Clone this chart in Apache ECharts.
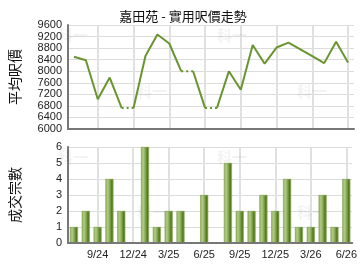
<!doctype html>
<html lang="zh-Hant">
<head>
<meta charset="UTF-8">
<title>嘉田苑 - 實用呎價走勢</title>
<script src="https://cdn.jsdelivr.net/npm/echarts@6/dist/echarts.min.js"></script>
<style>
  html, body { margin: 0; padding: 0; background: #fff; }
  #main { width: 360px; height: 270px; }
</style>
</head>
<body>
<div id="main"></div>
<script type="text/javascript">
// 月份 (7/24 - 6/26)
var months = ['7/24','8/24','9/24','10/24','11/24','12/24','1/25','2/25','3/25','4/25','5/25','6/25',
              '7/25','8/25','9/25','10/25','11/25','12/25','1/26','2/26','3/26','4/26','5/26','6/26'];
// 平均呎價
var prices = [8500, 8380, 7030, 7780, 6730, 6730, 8530, 9270, 8960, 8000, 8000, 6730,
              6730, 8000, 7360, 8910, 8260, 8820, 8990, 8760, 8520, 8280, 9020, 8300];
// 成交宗數
var deals = [1, 2, 1, 4, 2, 0, 6, 1, 2, 2, 0, 3, 0, 5, 2, 2, 3, 2, 4, 1, 1, 3, 1, 4];
var tickMonths = ['9/24','12/24','3/25','6/25','9/25','12/25','3/26','6/26'];

var lineColor = '#6a9430';
var font = '"Liberation Sans", Arial, sans-serif';
var cjk = '"Noto Sans CJK TC", sans-serif';

// half-month slots so the vertical grid lines sit on the month centres
var halfSlots = [];
for (var k = 0; k <= 48; k++) halfSlots.push(k);
function isTickSlot(idx) {
	if (idx % 2 === 0) return false;
	var m = months[(idx - 1) / 2];
	return tickMonths.indexOf(m) >= 0;
}

// split the price line into solid runs and dotted gaps (months with no deals)
var series = [];
function lineSeries(data, dotted) {
	return {
		type: 'line', xAxisIndex: 0, yAxisIndex: 0,
		data: data, symbol: 'none', silent: true,
		lineStyle: { color: lineColor, width: 2, type: dotted ? [2, 3] : 'solid' },
		z: 3
	};
}
var solid = [], dots = [];
for (var i = 1; i < months.length; i++) {
	if (deals[i] === 0) {
		var d = months.map(function () { return null; });
		d[i - 1] = prices[i - 1];
		d[i] = prices[i];
		dots.push(d);
	}
}
var cur = months.map(function () { return null; });
cur[0] = prices[0];
for (var i = 1; i < months.length; i++) {
	if (deals[i] === 0) {
		solid.push(cur);
		cur = months.map(function () { return null; });
	}
	cur[i] = prices[i];
}
solid.push(cur);
solid.forEach(function (d) { series.push(lineSeries(d, false)); });
dots.forEach(function (d) { series.push(lineSeries(d, true)); });

series.push({
	type: 'bar', xAxisIndex: 2, yAxisIndex: 1,
	data: deals, barWidth: 8, silent: true,
	itemStyle: {
		color: new echarts.graphic.LinearGradient(0, 0, 1, 0, [
			{ offset: 0, color: '#94b462' },
			{ offset: 0.3, color: '#b0ca86' },
			{ offset: 0.6, color: '#7c9f45' },
			{ offset: 0.8, color: '#4f781a' },
			{ offset: 1, color: '#86a851' }
		]),
		borderColor: '#6e9038',
		borderWidth: 0.5
	}
});

var gridLine = { show: true, lineStyle: { color: '#dcdcdc', width: 1 } };
var vLine = { show: true, interval: function (idx) { return isTickSlot(idx); }, lineStyle: { color: '#e0e0e0', width: 2 } };
var axisDark = { show: true, lineStyle: { color: '#777', width: 2 } };
var yLabel = {
	color: '#222', fontSize: 11, fontFamily: font, margin: 6,
	formatter: function (v) { return String(v); }
};

function mainX(gridIndex, showLabels) {
	return {
		type: 'category', gridIndex: gridIndex, data: months, boundaryGap: true,
		axisLine: axisDark, axisTick: { show: false }, splitLine: { show: false },
		axisLabel: {
			show: showLabels,
			interval: function (idx, val) { return tickMonths.indexOf(val) >= 0; },
			color: '#222', fontSize: 11, fontFamily: font, margin: 6
		},
		z: 4
	};
}
function helperX(gridIndex) {
	return {
		type: 'category', gridIndex: gridIndex, data: halfSlots, boundaryGap: false,
		axisLine: { show: false }, axisTick: { show: false }, axisLabel: { show: false },
		splitLine: vLine
	};
}

var graphics = [];
[[58, 28], [217, 28], [137, 84], [297, 84], [58, 150], [217, 150], [137, 205], [297, 205]].forEach(function (p) {
	graphics.push({
		type: 'text', left: p[0], top: p[1], silent: true, z: 1,
		style: { text: '科一', fill: 'rgba(0,0,0,0.05)', font: 'bold 15px ' + cjk }
	});
});

var myChart = echarts.init(document.getElementById('main'), null, { renderer: 'canvas' });
var option = {
	animation: false,
	backgroundColor: '#fff',
	title: {
		text: '嘉田苑 - 實用呎價走勢', left: 178, textAlign: 'center', top: 5,
		textStyle: { fontSize: 13, fontWeight: 'normal', color: '#111', fontFamily: cjk }
	},
	graphic: graphics,
	grid: [
		{ left: 68, right: 6, top: 25, height: 104 },
		{ left: 68, right: 6, top: 147, height: 96 }
	],
	xAxis: [mainX(0, false), helperX(0), mainX(1, true), helperX(1)],
	yAxis: [
		{
			type: 'value', gridIndex: 0, min: 6000, max: 9600, interval: 400,
			name: '平均呎價', nameLocation: 'middle', nameGap: 46, nameRotate: 90,
			nameTextStyle: { fontSize: 14, color: '#111', fontFamily: cjk },
			axisLine: axisDark, axisTick: { show: false }, splitLine: gridLine,
			axisLabel: yLabel
		},
		{
			type: 'value', gridIndex: 1, min: 0, max: 6, interval: 1,
			name: '成交宗數', nameLocation: 'middle', nameGap: 46, nameRotate: 90,
			nameTextStyle: { fontSize: 14, color: '#111', fontFamily: cjk },
			axisLine: axisDark, axisTick: { show: false }, splitLine: gridLine,
			axisLabel: yLabel
		}
	],
	series: series
};
myChart.setOption(option);
</script>
</body>
</html>
